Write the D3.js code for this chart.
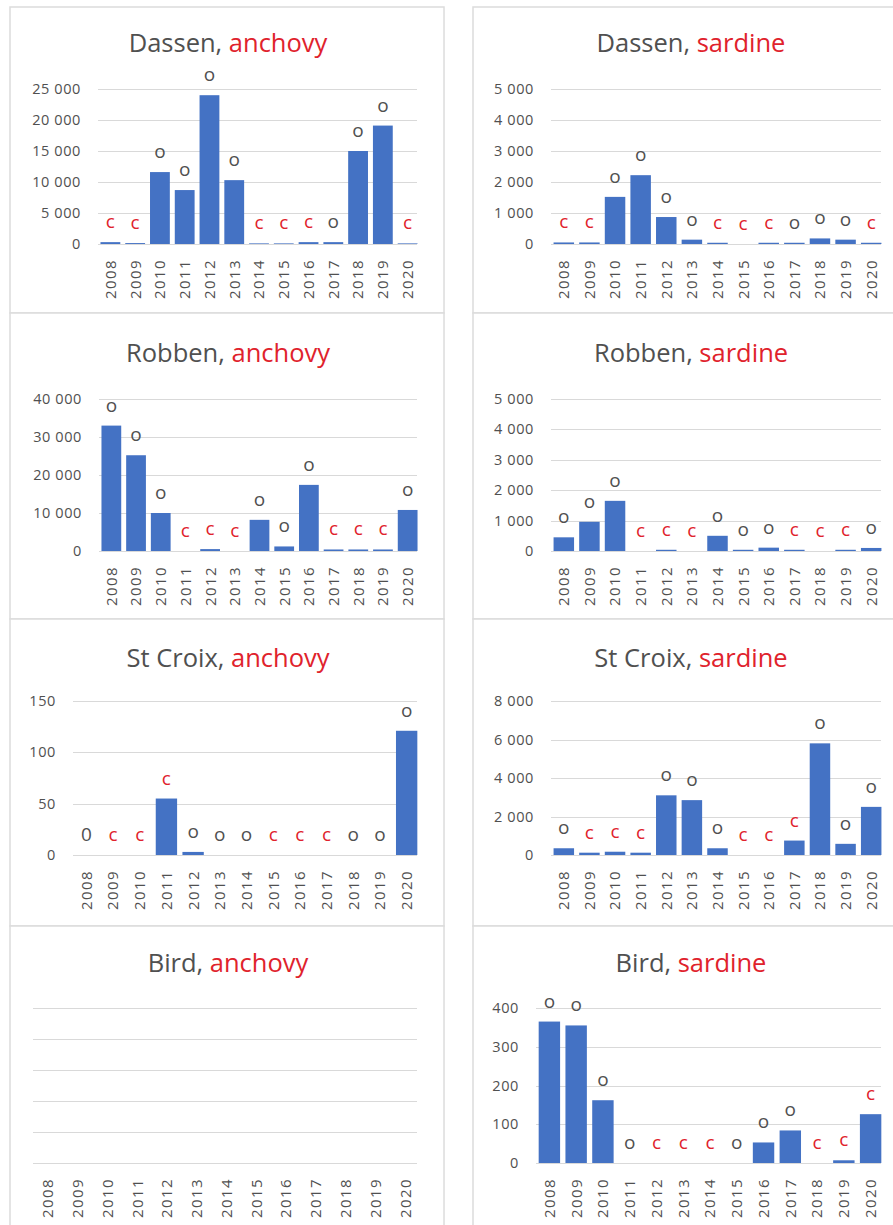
<!DOCTYPE html>
<html>
<head>
<meta charset="utf-8">
<script src="https://cdn.jsdelivr.net/npm/d3@7"></script>
<style>
  body { margin: 0; background: #fff; }
  text { font-family: "Open Sans", sans-serif; }
</style>
</head>
<body>
<svg class="chart"></svg>
<script>
var width = 893,
    height = 1225;

// categories
var years = ["2008", "2009", "2010", "2011", "2012", "2013", "2014",
             "2015", "2016", "2017", "2018", "2019", "2020"];

// series values
var dassenAnchovy  = [300, 150, 11600, 8700, 24000, 10300, 100, 100, 300, 300, 15000, 19100, 100];
var dassenSardine  = [50, 50, 1520, 2220, 870, 140, 40, 0, 40, 40, 180, 140, 40];
var robbenAnchovy  = [33000, 25200, 10000, 0, 500, 0, 8200, 1200, 17400, 400, 400, 400, 10800];
var robbenSardine  = [450, 960, 1650, 0, 40, 0, 500, 40, 110, 40, 0, 40, 100];
var croixAnchovy   = [0, 0, 0, 55, 3, 0, 0, 0, 0, 0, 0, 0, 121];
var croixSardine   = [350, 120, 170, 120, 3100, 2850, 350, 0, 0, 750, 5800, 580, 2500];
var birdAnchovy    = [null, null, null, null, null, null, null, null, null, null, null, null, null];
var birdSardine    = [365, 355, 162, 0, 0, 0, 0, 0, 53, 84, 0, 7, 126];

// point labels above the bars
var dassenAnchovyTags = ["c", "c", "o", "o", "o", "o", "c", "c", "c", "o", "o", "o", "c"];
var dassenSardineTags = ["c", "c", "o", "o", "o", "o", "c", "c", "c", "o", "o", "o", "c"];
var robbenAnchovyTags = ["o", "o", "o", "c", "c", "c", "o", "o", "o", "c", "c", "c", "o"];
var robbenSardineTags = ["o", "o", "o", "c", "c", "c", "o", "o", "o", "c", "c", "c", "o"];
var croixAnchovyTags  = ["0", "c", "c", "c", "o", "o", "o", "c", "c", "c", "o", "o", "o"];
var croixSardineTags  = ["o", "c", "c", "c", "o", "o", "o", "c", "c", "c", "o", "o", "o"];
var birdAnchovyTags   = [];
var birdSardineTags   = ["o", "o", "o", "o", "c", "c", "c", "o", "o", "o", "c", "c", "c"];

// tick labels
var ticksDassenAnchovy = [0, 5000, 10000, 15000, 20000, 25000];
var ticks5000          = [0, 1000, 2000, 3000, 4000, 5000];
var ticksRobbenAnchovy = [0, 10000, 20000, 30000, 40000];
var ticksCroixAnchovy  = [0, 50, 100, 150];
var ticksCroixSardine  = [0, 2000, 4000, 6000, 8000];
var ticksBirdAnchovy   = [0, 0.2, 0.4, 0.6, 0.8, 1];
var ticksBirdSardine   = [0, 100, 200, 300, 400];

// panel table built from the arrays above
var panels = [
  { colony: "Dassen",   fish: "anchovy", values: dassenAnchovy, tags: dassenAnchovyTags, ticks: ticksDassenAnchovy, row: 0, col: 0, left: 98 },
  { colony: "Dassen",   fish: "sardine", values: dassenSardine, tags: dassenSardineTags, ticks: ticks5000,          row: 0, col: 1, left: 551 },
  { colony: "Robben",   fish: "anchovy", values: robbenAnchovy, tags: robbenAnchovyTags, ticks: ticksRobbenAnchovy, row: 1, col: 0, left: 99 },
  { colony: "Robben",   fish: "sardine", values: robbenSardine, tags: robbenSardineTags, ticks: ticks5000,          row: 1, col: 1, left: 551 },
  { colony: "St Croix", fish: "anchovy", values: croixAnchovy,  tags: croixAnchovyTags,  ticks: ticksCroixAnchovy,  row: 2, col: 0, left: 73 },
  { colony: "St Croix", fish: "sardine", values: croixSardine,  tags: croixSardineTags,  ticks: ticksCroixSardine,  row: 2, col: 1, left: 551 },
  { colony: "Bird",     fish: "anchovy", values: birdAnchovy,   tags: birdAnchovyTags,   ticks: ticksBirdAnchovy,   row: 3, col: 0, left: 33, noLabels: true },
  { colony: "Bird",     fish: "sardine", values: birdSardine,   tags: birdSardineTags,   ticks: ticksBirdSardine,   row: 3, col: 1, left: 536 }
];

// layout
var boxX = [10, 473], boxW = [434, 440];
var rowTop = [7, 313, 619, 926];
var titleY = [52, 362, 667, 972];
var plotTop = [89, 399, 701, 1008];
var plotBottom = [244, 551, 855, 1163];
var plotRight = [420, 884];

var grey = "#505050", red = "#e0222c", blue = "#4472c4";

var fmt = function(v) { return d3.format(",")(v).replace(/,/g, " "); };

var chart = d3.select(".chart")
    .attr("width", width)
    .attr("height", height);

chart.append("rect") //background
  .attr("width", width)
  .attr("height", height)
  .attr("fill", "#fff");

panels.forEach(function(p) {
  var g = chart.append("g");
  var bottom = plotBottom[p.row], top = plotTop[p.row];
  var rowBottom = p.row < 3 ? rowTop[p.row + 1] : height + 5;

  g.append("rect") //chart border
    .attr("x", boxX[p.col])
    .attr("y", rowTop[p.row])
    .attr("width", boxW[p.col])
    .attr("height", rowBottom - rowTop[p.row])
    .attr("fill", "#fff")
    .attr("stroke", "#dcdcdc")
    .attr("stroke-width", 1.5);

  var title = g.append("text") //title, colony grey and fish red
    .attr("x", boxX[p.col] + 218)
    .attr("y", titleY[p.row])
    .attr("text-anchor", "middle")
    .attr("font-size", 25.5);
  title.append("tspan").attr("fill", grey).text(p.colony + ", ");
  title.append("tspan").attr("fill", red).text(p.fish);

  var x = d3.scaleBand()
    .domain(years)
    .range([p.left, plotRight[p.col]])
    .paddingInner(0.2)
    .paddingOuter(0.1);

  var y = d3.scaleLinear()
    .domain([0, d3.max(p.ticks)])
    .range([bottom, top]);

  // gridlines
  g.selectAll(".grid")
    .data(p.ticks)
    .enter().append("line")
    .attr("x1", p.left)
    .attr("x2", plotRight[p.col] - 3)
    .attr("y1", function(d) { return Math.round(y(d)) + 0.5; })
    .attr("y2", function(d) { return Math.round(y(d)) + 0.5; })
    .attr("stroke", "#d9d9d9")
    .attr("stroke-width", 1);

  // y tick labels
  if (!p.noLabels) {
    g.selectAll(".ytick")
      .data(p.ticks)
      .enter().append("text")
      .attr("x", p.left - 17)
      .attr("y", function(d) { return y(d); })
      .attr("dy", ".35em")
      .attr("text-anchor", "end")
      .attr("font-size", 14.5)
      .attr("letter-spacing", 0.6)
      .attr("fill", grey)
      .text(fmt);
  }

  // x tick labels, rotated
  g.selectAll(".xtick")
    .data(years)
    .enter().append("text")
    .attr("transform", function(d) {
      return "translate(" + (x(d) + x.bandwidth() / 2) + "," + (bottom + 15) + ") rotate(-90)";
    })
    .attr("dy", ".36em")
    .attr("text-anchor", "end")
    .attr("font-size", 15)
    .attr("letter-spacing", 1.4)
    .attr("fill", grey)
    .text(function(d) { return d; });

  // bars
  g.selectAll(".bar")
    .data(p.values.map(function(v, i) { return { year: years[i], v: v }; })
      .filter(function(d) { return d.v != null; }))
    .enter().append("rect")
    .attr("x", function(d) { return x(d.year); })
    .attr("y", function(d) { return y(d.v); })
    .attr("width", x.bandwidth())
    .attr("height", function(d) { return bottom - y(d.v); })
    .attr("fill", blue);

  // o / c labels above bars
  g.selectAll(".tag")
    .data(p.tags.map(function(t, i) { return { year: years[i], t: t, v: p.values[i] || 0 }; }))
    .enter().append("text")
    .attr("x", function(d) { return x(d.year) + x.bandwidth() / 2; })
    .attr("y", function(d) { return y(d.v) - 14; })
    .attr("text-anchor", "middle")
    .attr("font-size", 19)
    .attr("fill", function(d) { return d.t == "c" ? red : grey; })
    .text(function(d) { return d.t; });
});
</script>
</body>
</html>
